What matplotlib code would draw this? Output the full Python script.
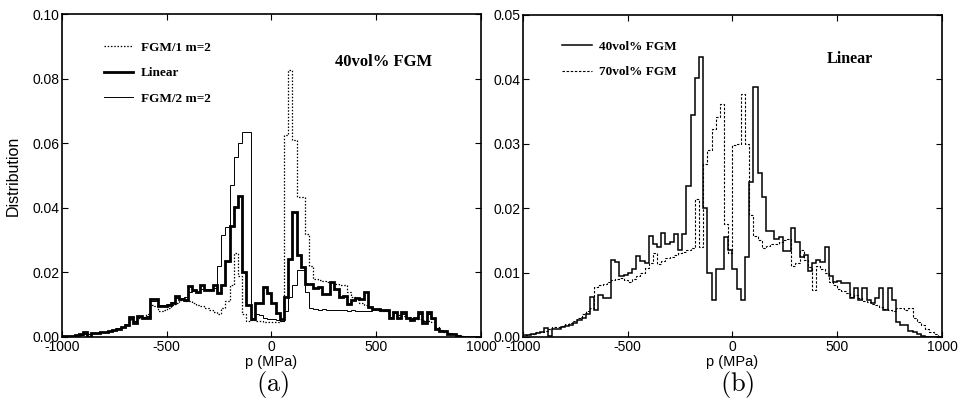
import numpy as np
import matplotlib
matplotlib.use("Agg")
import matplotlib.pyplot as plt

# histogram bins: 20 MPa wide, -1000 .. 1000 MPa
BIN_EDGES = np.arange(-1000, 1001, 20)

# Linear profile, 40vol% FGM (same curve in both panels)
linear_40 = [
    0.0003, 0.0003, 0.0004, 0.0006, 0.0008, 0.0014, 0.0001, 0.0012, 0.0013, 0.0015,
    0.0017, 0.0019, 0.0022, 0.0026, 0.0030, 0.0036, 0.0062, 0.0042, 0.0065, 0.0060,
    0.0060, 0.0119, 0.0117, 0.0095, 0.0097, 0.0100, 0.0105, 0.0126, 0.0118, 0.0115,
    0.0157, 0.0145, 0.0140, 0.0161, 0.0145, 0.0147, 0.0160, 0.0135, 0.0160, 0.0234,
    0.0344, 0.0402, 0.0435, 0.0200, 0.0100, 0.0057, 0.0105, 0.0105, 0.0155, 0.0135,
    0.0105, 0.0075, 0.0057, 0.0125, 0.0240, 0.0388, 0.0255, 0.0218, 0.0165, 0.0165,
    0.0152, 0.0155, 0.0134, 0.0134, 0.0169, 0.0148, 0.0125, 0.0127, 0.0102, 0.0115,
    0.0120, 0.0117, 0.0140, 0.0094, 0.0086, 0.0087, 0.0084, 0.0084, 0.0060, 0.0076,
    0.0058, 0.0076, 0.0058, 0.0053, 0.0060, 0.0076, 0.0042, 0.0076, 0.0058, 0.0024,
    0.0019, 0.0018, 0.0009, 0.0008, 0.0004, 0.0001, 0.0, 0.0, 0.0, 0.0,
]

# FGM/1 m=2 (dotted, panel a)
fgm1_m2 = [
    0.0002, 0.0003, 0.0004, 0.0005, 0.0007, 0.0009, 0.0009, 0.0011, 0.0013, 0.0015,
    0.0017, 0.0019, 0.0022, 0.0026, 0.0030, 0.0036, 0.0052, 0.0050, 0.0060, 0.0062,
    0.0072, 0.0098, 0.0095, 0.0080, 0.0085, 0.0090, 0.0100, 0.0105, 0.0115, 0.0110,
    0.0112, 0.0104, 0.0100, 0.0095, 0.0090, 0.0085, 0.0078, 0.0072, 0.0090, 0.0110,
    0.0160, 0.0259, 0.0190, 0.0070, 0.0050, 0.0052, 0.0050, 0.0048, 0.0046, 0.0045,
    0.0045, 0.0046, 0.0048, 0.0625, 0.0827, 0.0610, 0.0434, 0.0434, 0.0320, 0.0220,
    0.0180, 0.0176, 0.0172, 0.0170, 0.0168, 0.0165, 0.0162, 0.0160, 0.0140, 0.0125,
    0.0115, 0.0105, 0.0098, 0.0092, 0.0088, 0.0085, 0.0082, 0.0080, 0.0076, 0.0072,
    0.0068, 0.0065, 0.0062, 0.0060, 0.0057, 0.0055, 0.0052, 0.0050, 0.0045, 0.0030,
    0.0022, 0.0016, 0.0012, 0.0008, 0.0005, 0.0003, 0.0001, 0.0, 0.0, 0.0,
]

# FGM/2 m=2 (thin solid, panel a)
fgm2_m2 = [
    0.0002, 0.0003, 0.0004, 0.0005, 0.0007, 0.0010, 0.0008, 0.0011, 0.0013, 0.0015,
    0.0017, 0.0020, 0.0023, 0.0027, 0.0031, 0.0040, 0.0055, 0.0048, 0.0062, 0.0060,
    0.0064, 0.0112, 0.0110, 0.0098, 0.0098, 0.0101, 0.0108, 0.0120, 0.0122, 0.0125,
    0.0140, 0.0142, 0.0140, 0.0150, 0.0148, 0.0150, 0.0152, 0.0220, 0.0316, 0.0342,
    0.0470, 0.0558, 0.0600, 0.0636, 0.0636, 0.0058, 0.0070, 0.0068, 0.0060, 0.0055,
    0.0055, 0.0052, 0.0050, 0.0080, 0.0125, 0.0160, 0.0207, 0.0207, 0.0140, 0.0089,
    0.0086, 0.0085, 0.0086, 0.0084, 0.0085, 0.0084, 0.0083, 0.0084, 0.0082, 0.0083,
    0.0082, 0.0081, 0.0080, 0.0080, 0.0085, 0.0086, 0.0083, 0.0082, 0.0062, 0.0074,
    0.0060, 0.0072, 0.0058, 0.0055, 0.0060, 0.0070, 0.0048, 0.0070, 0.0055, 0.0028,
    0.0021, 0.0018, 0.0011, 0.0008, 0.0005, 0.0002, 0.0001, 0.0, 0.0, 0.0,
]

# Linear profile, 70vol% FGM (dashed, panel b)
linear_70 = [
    0.0003, 0.0005, 0.0005, 0.0007, 0.0008, 0.0010, 0.0012, 0.0015, 0.0015, 0.0017,
    0.0020, 0.0022, 0.0025, 0.0030, 0.0035, 0.0040, 0.0045, 0.0078, 0.0080, 0.0082,
    0.0085, 0.0088, 0.0090, 0.0092, 0.0088, 0.0085, 0.0090, 0.0095, 0.0100, 0.0107,
    0.0115, 0.0130, 0.0113, 0.0118, 0.0122, 0.0125, 0.0128, 0.0130, 0.0132, 0.0135,
    0.0138, 0.0215, 0.0140, 0.0268, 0.0290, 0.0323, 0.0342, 0.0362, 0.0176, 0.0130,
    0.0298, 0.0300, 0.0378, 0.0300, 0.0190, 0.0157, 0.0150, 0.0138, 0.0142, 0.0145,
    0.0145, 0.0148, 0.0150, 0.0152, 0.0110, 0.0115, 0.0135, 0.0120, 0.0108, 0.0073,
    0.0110, 0.0105, 0.0100, 0.0085, 0.0080, 0.0075, 0.0072, 0.0068, 0.0062, 0.0065,
    0.0060, 0.0056, 0.0055, 0.0052, 0.0050, 0.0046, 0.0044, 0.0042, 0.0040, 0.0045,
    0.0045, 0.0042, 0.0045, 0.0030, 0.0024, 0.0018, 0.0012, 0.0008, 0.0004, 0.0001,
]

x_ticks = [-1000, -500, 0, 500, 1000]
y_ticks_a = [0.00, 0.02, 0.04, 0.06, 0.08, 0.10]
y_ticks_b = [0.00, 0.01, 0.02, 0.03, 0.04, 0.05]

SANS = "Liberation Sans"
SERIF = "Liberation Serif"

fig = plt.figure(figsize=(9.62, 4.12), dpi=100)
ax_a = fig.add_axes([62 / 962, 75 / 412, 419 / 962, 323 / 412])
ax_b = fig.add_axes([523 / 962, 75 / 412, 419 / 962, 322 / 412])

# panel (a)
ax_a.stairs(fgm1_m2, BIN_EDGES, color="black", lw=0.9, ls=(0, (1.2, 1.4)),
            label="FGM/1 m=2")
ax_a.stairs(linear_40, BIN_EDGES, color="black", lw=2.0, label="Linear")
ax_a.stairs(fgm2_m2, BIN_EDGES, color="black", lw=0.7, label="FGM/2 m=2")
ax_a.set_ylim(0, 0.10)
ax_a.set_yticks(y_ticks_a)
ax_a.set_yticklabels([f"{t:.2f}" for t in y_ticks_a])
ax_a.set_ylabel("Distribution", family=SANS, fontsize=11.5, labelpad=8)
ax_a.legend(loc="upper left", bbox_to_anchor=(0.10, 0.915), frameon=False,
            borderpad=0, borderaxespad=0, handlelength=2.2, handletextpad=0.6,
            labelspacing=1.0, prop={"family": SERIF, "size": 9.5, "weight": "bold"})
ax_a.text(0.652, 0.851, "40vol% FGM", transform=ax_a.transAxes,
          ha="left", va="center", family=SERIF, fontsize=12, fontweight="bold")

# panel (b)
ax_b.stairs(linear_40, BIN_EDGES, color="black", lw=1.1, label="40vol% FGM")
ax_b.stairs(linear_70, BIN_EDGES, color="black", lw=0.8, ls=(0, (2.2, 1.5)),
            label="70vol% FGM")
ax_b.set_ylim(0, 0.05)
ax_b.set_yticks(y_ticks_b)
ax_b.set_yticklabels([f"{t:.2f}" for t in y_ticks_b])
ax_b.legend(loc="upper left", bbox_to_anchor=(0.093, 0.92), frameon=False,
            borderpad=0, borderaxespad=0, handlelength=2.3, handletextpad=0.5,
            labelspacing=1.0, prop={"family": SERIF, "size": 9.5, "weight": "bold"})
ax_b.text(0.726, 0.863, "Linear", transform=ax_b.transAxes,
          ha="left", va="center", family=SERIF, fontsize=11.5, fontweight="bold")

for ax, tag, xc in ((ax_a, "(a)", 273), (ax_b, "(b)", 737)):
    ax.set_xlim(-1000, 1000)
    ax.set_xticks(x_ticks)
    ax.set_xticklabels([str(t) for t in x_ticks])
    ax.set_xlabel("p (MPa)", family=SANS, fontsize=10.5, labelpad=1)
    ax.tick_params(direction="in", length=4, width=0.8, top=True, right=True,
                   labelsize=10, pad=2)
    for lab in ax.get_xticklabels() + ax.get_yticklabels():
        lab.set_family(SANS)
    for sp in ax.spines.values():
        sp.set_linewidth(1.2)
    fig.text(xc / 962, 1 - 385 / 412, r"$\mathrm{" + tag + "}$",
             ha="center", va="center", fontsize=19, math_fontfamily="cm")

fig.savefig("out.png", dpi=100, facecolor="white")
